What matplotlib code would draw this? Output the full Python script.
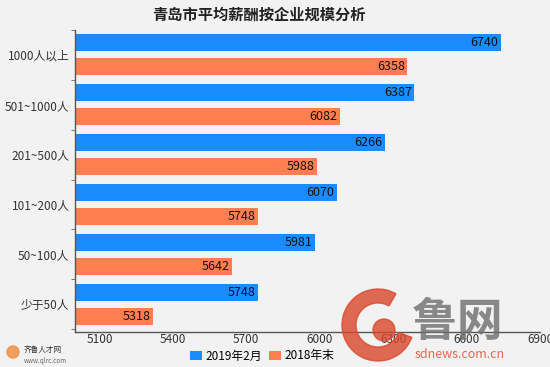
import numpy as np
import matplotlib
matplotlib.use("Agg")
import matplotlib.pyplot as plt
from matplotlib.patches import Wedge, Circle

plt.rcParams['font.family'] = ['Noto Sans CJK SC', 'DejaVu Sans']

# data, top to bottom
categories = ["1000人以上", "501~1000人", "201~500人", "101~200人", "50~100人", "少于50人"]
feb_2019 = [6740, 6387, 6266, 6070, 5981, 5748]
end_2018 = [6358, 6082, 5988, 5748, 5642, 5318]
xticks = [5100, 5400, 5700, 6000, 6300, 6600, 6900]

BLUE = "#1a8cff"
ORANGE = "#ff7f50"
BG = "#f2f2f2"

fig = plt.figure(figsize=(5.5, 3.67), dpi=100, facecolor=BG)
ax = fig.add_axes([75/550, 1 - 332/367, 465/550, 302/367], facecolor=BG)

y = np.arange(len(categories))
h = 0.34
off = 0.24
left = 5000

b1 = ax.barh(y - off, np.array(feb_2019) - left, left=left, height=h,
             color=BLUE, label="2019年2月")
b2 = ax.barh(y + off, np.array(end_2018) - left, left=left, height=h,
             color=ORANGE, label="2018年末")

for bars, vals in ((b1, feb_2019), (b2, end_2018)):
    for bar, v in zip(bars, vals):
        ax.text(v - 10, bar.get_y() + bar.get_height() / 2, str(v),
                ha="right", va="center", fontsize=9, color="#111111")

ax.set_xlim(left, 6900)
ax.set_ylim(len(categories) - 1 + 0.56, -0.46)
ax.set_yticks(y)
ax.set_yticklabels(categories, fontsize=8.5, color="#333333")
ax.set_yticks(np.arange(len(categories) + 1) - 0.5, minor=True)
ax.tick_params(axis="y", which="major", length=0, pad=4)
ax.tick_params(axis="y", which="minor", length=3, color="#666666")
ax.set_xticks(xticks)
ax.set_xticklabels([str(t) for t in xticks], fontsize=8.5, color="#333333")
ax.tick_params(axis="x", length=0, pad=0.5)

for s in ("top", "right"):
    ax.spines[s].set_visible(False)
for s in ("left", "bottom"):
    ax.spines[s].set_color("#555555")
    ax.spines[s].set_linewidth(1.0)

fig.text(0.47, 1 - 15/367, "青岛市平均薪酬按企业规模分析", ha="center", va="center",
         fontsize=11, fontweight="bold", color="#222222")

fig.legend(handles=[b1, b2], loc="center", bbox_to_anchor=(262/550, 1 - 356/367),
           ncol=2, frameon=False, fontsize=8.5, handlelength=1.0, handleheight=0.9,
           handletextpad=0.3, columnspacing=0.6, borderpad=0.1)

# watermarks (鲁网 logo bottom right, 齐鲁人才网 bottom left)
wm = fig.add_axes([0, 0, 1, 1], facecolor="none")
wm.set_xlim(0, 550)
wm.set_ylim(367, 0)
wm.axis("off")
wm.add_patch(Wedge((378, 325), 36, 20, 300, width=14, color="#d9472b", alpha=0.8))
wm.add_patch(Circle((384, 330), 11, color="#d9472b", alpha=0.8))
wm.text(458, 323, "鲁网", ha="center", va="center", fontsize=33,
        fontweight="bold", color="#6e6e6e", alpha=0.8)
wm.text(460, 355, "sdnews.com.cn", ha="center", va="center",
        fontsize=9, color="#e05a3a", alpha=0.9)
wm.add_patch(Circle((13, 352), 6, color="#f08a3c", alpha=0.8))
wm.text(24, 350, "齐鲁人才网", ha="left", va="center", fontsize=5.5,
        color="#333333")
wm.text(24, 361, "www.qlrc.com", ha="left", va="center", fontsize=4.5,
        color="#666666")

fig.savefig("out.png", dpi=100, facecolor=BG)
